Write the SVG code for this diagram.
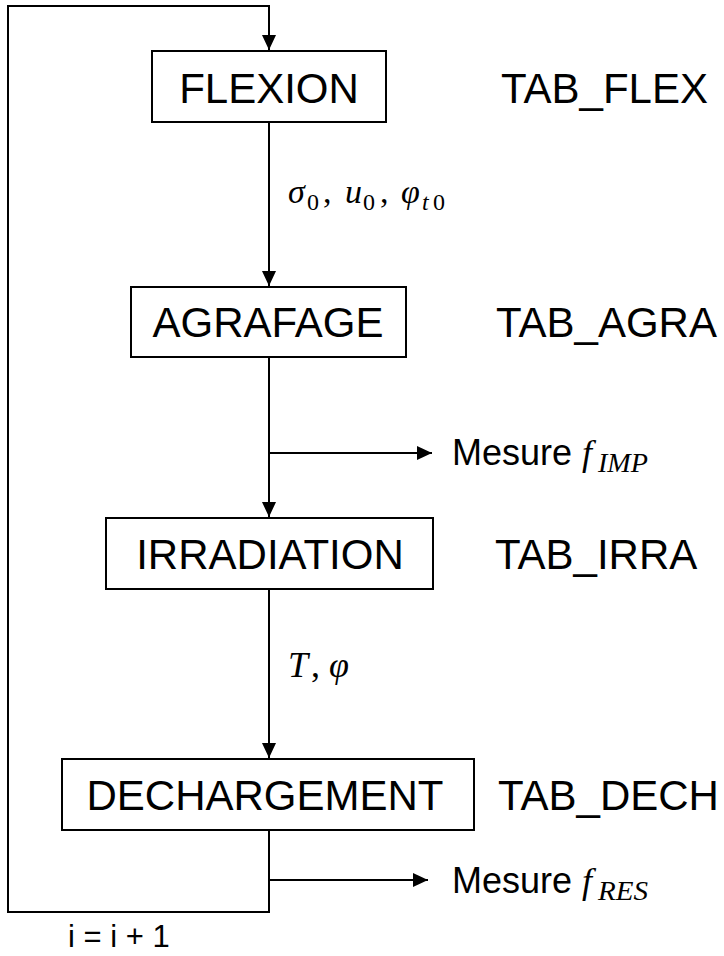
<svg xmlns="http://www.w3.org/2000/svg" width="724" height="956" viewBox="0 0 724 956">
  <style>
    .box { fill: #fff; stroke: #000; stroke-width: 2; }
    .lbl { font-family: "Liberation Sans", Arial, sans-serif; font-size: 42px; fill: #000; }
    .sans { font-family: "Liberation Sans", Arial, sans-serif; fill: #000; }
    .math { font-family: "Liberation Serif", "Times New Roman", serif; fill: #000; }
    .it { font-style: italic; }
    .wire { fill: none; stroke: #000; stroke-width: 2; }
  </style>
  <defs>
    <marker id="arrow" viewBox="0 0 15 14" refX="15" refY="7" markerWidth="15" markerHeight="14" orient="auto" markerUnits="userSpaceOnUse">
      <path d="M0,0 L15,7 L0,14 z" fill="#000"/>
    </marker>
  </defs>

  <g id="connectors">
    <!-- loop back from DECHARGEMENT to FLEXION -->
    <path class="wire" d="M269,830 V912 H8 V6 H269 V50" marker-end="url(#arrow)"/>
    <path class="wire" d="M269,122 V286" marker-end="url(#arrow)"/>
    <path class="wire" d="M269,357 V517" marker-end="url(#arrow)"/>
    <path class="wire" d="M269,453 H432" marker-end="url(#arrow)"/>
    <path class="wire" d="M269,589 V758" marker-end="url(#arrow)"/>
    <path class="wire" d="M269,880 H428" marker-end="url(#arrow)"/>
  </g>

  <g id="flexion">
    <rect class="box" x="152" y="51" width="234" height="71"/>
    <text class="lbl" x="269" y="103" text-anchor="middle">FLEXION</text>
    <text class="lbl" x="501" y="103">TAB_FLEX</text>
  </g>

  <g id="agrafage">
    <rect class="box" x="131" y="287" width="275" height="70"/>
    <text class="lbl" x="268" y="337" text-anchor="middle">AGRAFAGE</text>
    <text class="lbl" x="496" y="337">TAB_AGRA</text>
  </g>

  <g id="irradiation">
    <rect class="box" x="106" y="518" width="327" height="71"/>
    <text class="lbl" x="270" y="569" text-anchor="middle">IRRADIATION</text>
    <text class="lbl" x="495" y="569">TAB_IRRA</text>
  </g>

  <g id="dechargement">
    <rect class="box" x="62" y="759" width="412" height="71"/>
    <text class="lbl" x="265" y="810" text-anchor="middle">DECHARGEMENT</text>
    <text class="lbl" x="498" y="810">TAB_DECH</text>
  </g>

  <g id="labels">
    <!-- σ0, u0, φt0 -->
    <text class="math" style="font-size:34px" y="203">
      <tspan class="it" x="288">σ</tspan><tspan x="307" dy="7" style="font-size:24px">0</tspan><tspan x="323" dy="-7">,</tspan><tspan class="it" x="345">u</tspan><tspan x="363" dy="7" style="font-size:24px">0</tspan><tspan x="380" dy="-7">,</tspan><tspan class="it" x="401">φ</tspan><tspan class="it" x="422" dy="7" style="font-size:24px">t</tspan><tspan x="433" style="font-size:24px">0</tspan>
    </text>
    <!-- T, φ -->
    <text class="math" style="font-size:36px" y="677">
      <tspan class="it" x="288">T</tspan><tspan x="311">,</tspan><tspan class="it" x="329">φ</tspan>
    </text>
    <text y="465"><tspan class="sans" x="452" style="font-size:36px">Mesure</tspan><tspan class="math it" x="582" style="font-size:36px">f</tspan><tspan class="math it" x="598" dy="7" style="font-size:27px" textLength="50" lengthAdjust="spacingAndGlyphs">IMP</tspan></text>
    <text y="893"><tspan class="sans" x="452" style="font-size:36px">Mesure</tspan><tspan class="math it" x="582" style="font-size:36px">f</tspan><tspan class="math it" x="598" dy="7" style="font-size:27px" textLength="50" lengthAdjust="spacingAndGlyphs">RES</tspan></text>
    <text class="sans" x="68" y="947" style="font-size:31px">i = i + 1</text>
  </g>
</svg>
